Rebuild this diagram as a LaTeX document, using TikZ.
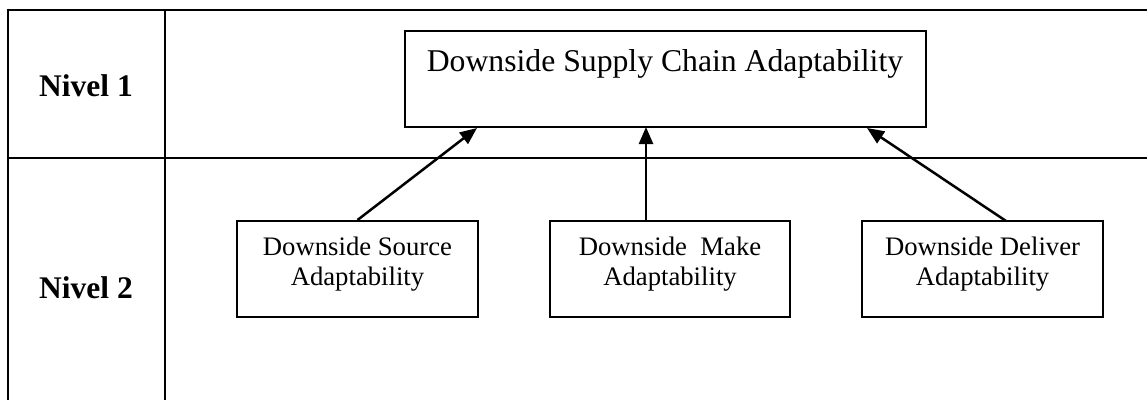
\documentclass[tikz,border=0pt]{standalone}
\usepackage{fontspec}
\setmainfont{Liberation Serif}
\usetikzlibrary{arrows.meta}
\begin{document}
\begin{tikzpicture}[x=1pt,y=-1pt,
  gridline/.style={line width=2.6pt},
  box/.style={draw,line width=2pt,inner sep=0},
  lbl/.style={inner sep=0,align=center,font=\fontsize{26.7}{30}\selectfont},
  toplbl/.style={inner sep=0,font=\fontsize{31.7}{36}\selectfont},
  lvl/.style={inner sep=0,font=\fontsize{31.5}{36}\selectfont\bfseries},
  arr/.style={line width=2.5pt,-{Triangle[length=17pt,width=14pt]}}]
\useasboundingbox (0,0) rectangle (1147,409);
% table grid
\draw[gridline] (8,10) -- (1147,10);
\draw[gridline] (8,158) -- (1147,158);
\draw[gridline] (8,8.7) -- (8,400);
\draw[gridline] (165,10) -- (165,400);
% level labels
\node[lvl,anchor=base] (n1) at (86,96) {Nivel 1};
\node[lvl,anchor=base] (n2) at (86,298) {Nivel 2};
% boxes
\node[box,minimum width=521pt,minimum height=96pt] (top) at (665.5,79) {};
\node[box,minimum width=241pt,minimum height=96pt] (src) at (357.5,269) {};
\node[box,minimum width=240pt,minimum height=96pt] (mk) at (670,269) {};
\node[box,minimum width=241pt,minimum height=96pt] (dl) at (982.5,269) {};
% texts
\node[toplbl,anchor=base] (ttop) at (665,72) {Downside Supply Chain Adaptability};
\node[lbl,anchor=north] (tsrc) at (357.5,237) {Downside Source\\Adaptability};
\node[lbl,anchor=north] (tmk) at (670,237) {Downside\ \ Make\\Adaptability};
\node[lbl,anchor=north] (tdl) at (982.5,237) {Downside Deliver\\Adaptability};
% arrow end points
\coordinate (eS) at (477,128);
\coordinate (sM) at (646,221);
\coordinate (eM) at (646,127);
\coordinate (eD) at (867,128);
\coordinate (sD) at (1006,221);
% arrows
\draw[arr] (src.north) -- (eS);
\draw[arr] (sM) -- (eM);
\draw[arr] (sD) -- (eD);
\end{tikzpicture}
\end{document}
